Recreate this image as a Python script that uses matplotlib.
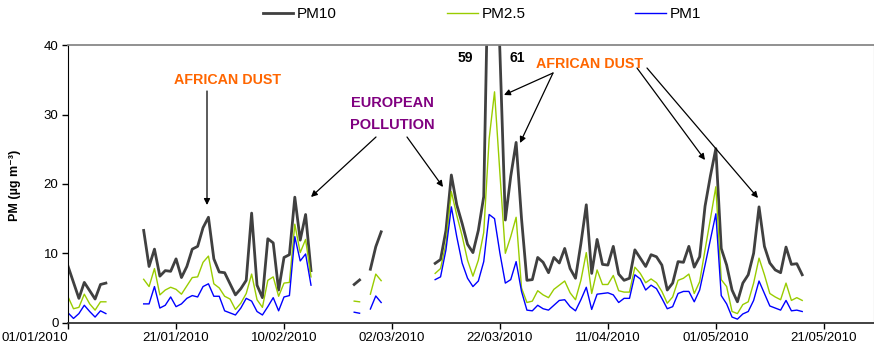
import numpy as np
import pandas as pd
import matplotlib
matplotlib.use("Agg")
import matplotlib.pyplot as plt
import matplotlib.dates as mdates

plt.rcParams["font.family"] = ["Liberation Sans", "DejaVu Sans"]

nan = np.nan

# daily values from 01/01/2010, nan = no data
pm10 = [8.1, 5.8, 3.5, 5.8, 4.6, 3.4, 5.5, 5.7,
        nan, nan, nan, nan, nan, nan,
        13.3, 8.1, 10.6, 6.7, 7.5, 7.4, 9.2, 6.5, 8.1, 10.6, 11.0, 13.7, 15.2, 9.2, 7.3, 7.2,
        5.6, 4.0, 4.9, 6.1, 15.8, 5.4, 3.6, 12.1, 11.5, 4.7, 9.4, 9.8, 18.1, 11.9, 15.6, 7.5,
        nan, nan, nan, nan, nan, nan, nan,
        5.5, 6.15, nan, 7.7, 10.95, 13.1,
        nan, nan, nan, nan, nan, nan, nan, nan, nan,
        8.55, 9.1, 13.3, 21.3, 17.0, 14.3, 11.3, 10.1, 13.3, 18.2,
        59, 61, 39, 14.8, 21.1, 26.0, 15.0, 6.1, 6.2, 9.4,
        8.7, 7.2, 9.4, 8.6, 10.7, 7.8, 6.4, 11.4, 17.0, 7.1,
        12.0, 8.4, 8.3, 11.0, 7.0, 6.1, 6.4, 10.5, 9.3, 8.1,
        9.8, 9.5, 8.3, 4.7, 5.7, 8.8, 8.7, 11.0, 8.0, 9.5,
        16.8, 21.2, 25.1, 10.7, 8.3, 4.7, 3.0, 5.7, 6.9, 10.0,
        16.7, 11.0, 8.6, 7.6, 7.2, 10.9, 8.4, 8.5, 6.9]

pm25 = [3.7, 2.0, 2.2, 4.1, 2.7, 1.8, 3.0, 3.0,
        nan, nan, nan, nan, nan, nan,
        6.25, 5.2, 7.8, 4.0, 4.7, 5.1, 4.8, 4.1, 5.3, 6.5, 6.6, 8.7, 9.6, 5.6, 5.0, 3.8,
        3.4, 1.9, 2.8, 4.2, 7.0, 3.3, 2.2, 6.1, 6.6, 3.8, 5.7, 5.8, 14.2, 10.1, 12.0, 6.6,
        nan, nan, nan, nan, nan, nan, nan,
        3.1, 3.0, nan, 4.1, 7.0, 6.05,
        nan, nan, nan, nan, nan, nan, nan, nan, nan,
        7.1, 7.8, 11.4, 18.9, 15.5, 12.5, 9.0, 6.7, 9.0, 13.0,
        26.5, 33.3, 21.5, 10.0, 12.4, 15.2, 5.0, 2.9, 3.1, 4.6,
        4.0, 3.6, 4.8, 5.4, 6.0, 4.3, 3.3, 6.1, 10.1, 4.2,
        7.6, 5.5, 5.5, 6.8, 4.6, 4.4, 4.4, 8.0, 7.1, 5.75,
        6.3, 5.75, 4.5, 2.8, 3.7, 6.1, 6.4, 7.0, 4.2, 5.9,
        10.5, 15.0, 19.6, 6.2, 5.2, 1.6, 1.3, 2.6, 3.0, 5.7,
        9.3, 6.9, 4.2, 3.7, 3.3, 5.7, 3.2, 3.6, 3.2]

pm1 = [1.4, 0.6, 1.3, 2.5, 1.6, 0.8, 1.7, 1.3,
       nan, nan, nan, nan, nan, nan,
       2.7, 2.7, 5.2, 2.1, 2.5, 3.7, 2.3, 2.7, 3.5, 3.9, 3.7, 5.2, 5.6, 3.8, 3.8, 1.7,
       1.4, 1.1, 2.1, 3.5, 3.1, 1.6, 1.1, 2.3, 3.6, 1.7, 3.7, 3.9, 12.4, 8.9, 9.9, 5.4,
       nan, nan, nan, nan, nan, nan, nan,
       1.5, 1.35, nan, 1.96, 3.84, 2.9,
       nan, nan, nan, nan, nan, nan, nan, nan, nan,
       6.2, 6.6, 10.5, 16.7, 12.4, 8.6, 6.4, 5.2, 6.0, 8.8,
       15.6, 15.0, 10.0, 5.7, 6.2, 8.8, 4.5, 1.8, 1.7, 2.5,
       2.0, 1.8, 2.5, 3.2, 3.3, 2.3, 1.7, 3.3, 5.1, 1.9,
       4.1, 4.2, 4.3, 4.0, 2.9, 3.5, 3.5, 6.9, 6.3, 4.7,
       5.4, 4.9, 3.5, 2.0, 2.3, 4.2, 4.5, 4.5, 3.0, 4.7,
       8.3, 12.0, 15.7, 3.9, 2.7, 0.8, 0.5, 1.25, 1.6, 3.2,
       6.0, 4.2, 2.4, 2.1, 1.8, 3.2, 1.7, 1.8, 1.6]

dates = pd.date_range("2010-01-01", periods=len(pm10), freq="D")
tick_dates = pd.date_range("2010-01-01", periods=8, freq="20D")
y_ticks = [0, 10, 20, 30, 40]

W, H = 874, 353
fig = plt.figure(figsize=(W / 100, H / 100), dpi=100)
left = 68.1 / W
ax = fig.add_axes([left, (H - 322.6) / H, 1 - left, (322.6 - 45.4) / H])

ax.plot(dates, pm10, color="#404040", lw=2.0, label="PM10")
ax.plot(dates, pm25, color="#99CC00", lw=1.0, label="PM2.5")
ax.plot(dates, pm1, color="#0000FF", lw=1.0, label="PM1")

x0 = mdates.date2num(dates[0])
ax.set_xlim(x0, x0 + 149.3)
ax.set_ylim(0, 40)
ax.set_yticks(y_ticks)
ax.set_xticks(tick_dates)
ax.set_xticklabels([d.strftime("%d/%m/%Y") for d in tick_dates])
ax.get_xticklabels()[0].set_ha("right")

ax.tick_params(direction="out", length=4, width=1, pad=3)
ax.tick_params(axis="x", labelsize=9.5)
ax.tick_params(axis="y", labelsize=9.5)
ax.spines["left"].set_color("black")
ax.spines["bottom"].set_color("#333333")
ax.spines["bottom"].set_linewidth(1.3)
ax.spines["top"].set_color("#888888")
ax.spines["top"].set_linewidth(1.3)
ax.spines["right"].set_color("#888888")

fig.text(15 / W, 1 - 185 / H, "PM (µg m⁻³)", rotation=90, ha="center", va="center",
         fontsize=9, fontweight="bold")

ax.legend(loc="center", bbox_to_anchor=(482 / W, 1 - 14 / H), bbox_transform=fig.transFigure,
          ncol=3, frameon=False, fontsize=11, handlelength=2.0, handletextpad=0.25,
          columnspacing=7.2)


def fp(x, y):
    return (x / W, 1 - y / H)


orange = "#FF6600"
purple = "#800080"
arrow = dict(arrowstyle="-|>", color="black", lw=0.9, mutation_scale=9, shrinkA=0, shrinkB=0)

fig.text(*fp(228, 80), "AFRICAN DUST", color=orange, fontsize=10.3, fontweight="bold",
         ha="center", va="center")
ax.annotate("", xy=fp(207, 205), xytext=fp(207, 91), xycoords="figure fraction",
            textcoords="figure fraction", arrowprops=arrow)

fig.text(*fp(392, 103), "EUROPEAN", color=purple, fontsize=10.5, fontweight="bold",
         ha="center", va="center")
fig.text(*fp(392, 125), "POLLUTION", color=purple, fontsize=10.5, fontweight="bold",
         ha="center", va="center")
ax.annotate("", xy=fp(311, 197), xytext=fp(376, 137), xycoords="figure fraction",
            textcoords="figure fraction", arrowprops=arrow)
ax.annotate("", xy=fp(443, 187), xytext=fp(407, 137), xycoords="figure fraction",
            textcoords="figure fraction", arrowprops=arrow)

fig.text(*fp(465, 58), "59", fontsize=10, fontweight="bold", ha="center", va="center")
fig.text(*fp(517, 58), "61", fontsize=10, fontweight="bold", ha="center", va="center")

fig.text(*fp(590, 64), "AFRICAN DUST", color=orange, fontsize=10.3, fontweight="bold",
         ha="center", va="center")
for tail, tip in [((553, 73), (504, 95)), ((553, 73), (520, 143)),
                  ((637, 68), (705, 160)), ((647, 68), (758, 198))]:
    ax.annotate("", xy=fp(*tip), xytext=fp(*tail), xycoords="figure fraction",
                textcoords="figure fraction", arrowprops=arrow)

fig.savefig("out.png", dpi=100)
